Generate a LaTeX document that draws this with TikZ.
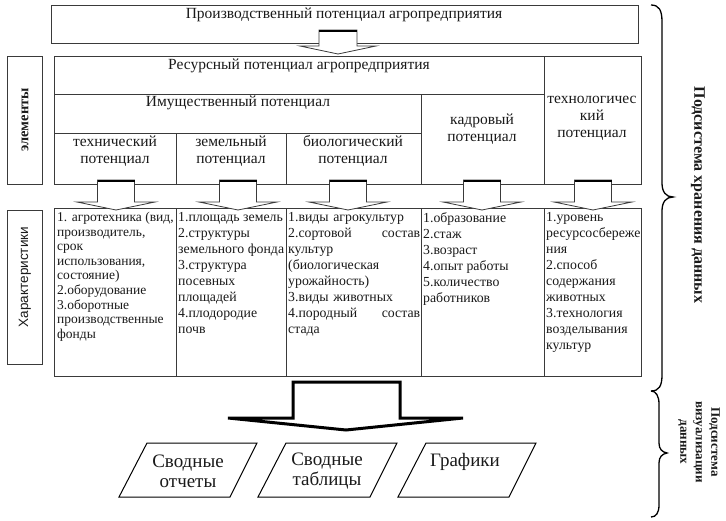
\documentclass[tikz,border=0pt]{standalone}
\usepackage{fontspec}
\setmainfont{Liberation Serif}
\newfontfamily\arialfont{Liberation Sans}
\usetikzlibrary{calc}
\definecolor{ln}{HTML}{3A3A3A}
\definecolor{tx}{HTML}{1A1A1A}
\newcommand\smallblockarrow[6]{% cx, ytop, yneck, ytip, shafthalf, headhalf
  \draw[ln, line width=0.8pt, fill=white, line join=miter]
    ({#1-#5},#2) -- ({#1-#5},#3) -- ({#1-#6},#3) -- (#1,#4) -- ({#1+#6},#3) -- ({#1+#5},#3) -- ({#1+#5},#2) -- cycle;
  \draw[black, line width=2.2pt] ({#1-#5},{#2+1}) -- ({#1+#5},{#2+1});
}
\begin{document}
\begin{tikzpicture}[x=1pt,y=-1pt,
  cellbox/.style={draw=ln, line width=0.9pt, rectangle, inner sep=0pt, anchor=north west},
  hdr/.style={font=\fontsize{15.5}{17}\selectfont, text=tx, align=center, inner sep=0pt},
  itm/.style={font=\fontsize{13.8}{16}\selectfont, text=tx, align=left, anchor=north west, inner sep=0pt},
  itmsmall/.style={font=\fontsize{13.5}{14.6}\selectfont, text=tx, align=left, anchor=north west, inner sep=0pt},
  sidelbl/.style={text=tx, inner sep=0pt, align=center},
  outbox/.style={draw=black, line width=1pt, line join=miter},
  outtext/.style={font=\fontsize{19}{20}\selectfont, text=tx, align=center, inner sep=0pt},
  bracepath/.style={draw=black, line width=1.3pt}
]
\useasboundingbox[fill=white] (0,0) rectangle (726,520);

% top box
\node[cellbox, minimum width=587pt, minimum height=38pt] (ptop) at (51,5) {};
\node[hdr] (ptoptext) at (344,15) {Производственный потенциал агропредприятия};

% resource structure
\node[cellbox, minimum width=490pt, minimum height=38pt] (res) at (54,56) {};
\node[cellbox, minimum width=97pt, minimum height=128pt] (tech) at (544,56) {};
\node[cellbox, minimum width=367pt, minimum height=39pt] (prop) at (54,94) {};
\node[cellbox, minimum width=123pt, minimum height=90pt] (kadr) at (421,94) {};
\node[cellbox, minimum width=122pt, minimum height=51pt] (c1) at (54,133) {};
\node[cellbox, minimum width=110pt, minimum height=51pt] (c2) at (176,133) {};
\node[cellbox, minimum width=135pt, minimum height=51pt] (c3) at (286,133) {};

\node[hdr] (restext) at (299,66) {Ресурсный потенциал агропредприятия};
\node[hdr] (proptext) at (238,103) {Имущественный потенциал};
\node[hdr] (c1text) at (115,151) {технический\\потенциал};
\node[hdr] (c2text) at (231,151) {земельный\\потенциал};
\node[hdr] (c3text) at (353,151) {биологический\\потенциал};
\node[hdr] (kadrtext) at (482,129) {кадровый\\потенциал};
\node[hdr] (techtext) at (592,118) {технологичес\\кий\\потенциал};

% left label boxes
\node[cellbox, minimum width=35pt, minimum height=128pt] (elbox) at (7,56) {};
\node[sidelbl, rotate=90, font=\fontsize{14.5}{16}\selectfont\bfseries] (eltext) at (25,120) {элементы};
\node[cellbox, minimum width=35pt, minimum height=154pt] (chbox) at (7,210) {};
\node[sidelbl, rotate=90, font=\arialfont\fontsize{13.5}{16}\selectfont] (chtext) at (25,277) {Характеристики};

% characteristics table
\node[cellbox, minimum width=122pt, minimum height=168pt] (k1) at (54,208) {};
\node[cellbox, minimum width=110pt, minimum height=168pt] (k2) at (176,208) {};
\node[cellbox, minimum width=135pt, minimum height=168pt] (k3) at (286,208) {};
\node[cellbox, minimum width=123pt, minimum height=168pt] (k4) at (421,208) {};
\node[cellbox, minimum width=97pt, minimum height=168pt] (k5) at (544,208) {};

\node[itmsmall] (k1text) at (57,212) {1. агротехника (вид,\\производитель,\\срок\\использования,\\состояние)\\2.оборудование\\3.оборотные\\производственные\\фонды};
\node[itm] (k2text) at (178,212) {1.площадь земель\\2.структуры\\земельного фонда\\3.структура\\посевных\\площадей\\4.плодородие\\почв};
\node[itm, text width=132pt] (k3text) at (288,212) {1.виды агрокультур\\2.сортовой\hfill состав\\культур\\(биологическая\\урожайность)\\3.виды животных\\4.породный\hfill состав\\стада};
\node[itm] (k4text) at (423,212) {1.образование\\2.стаж\\3.возраст\\4.опыт работы\\5.количество\\работников};
\node[itm] (k5text) at (546,212) {1.уровень\\ресурсосбереже\\ния\\2.способ\\содержания\\животных\\3.технология\\возделывания\\культур};

% small block arrows
\smallblockarrow{338}{30}{46}{54}{19}{38}
\smallblockarrow{116}{180}{202}{210}{18.5}{39}
\smallblockarrow{238}{180}{202}{210}{18.5}{39}
\smallblockarrow{348}{180}{202}{210}{18.5}{39}
\smallblockarrow{482}{180}{202}{210}{18.5}{39}
\smallblockarrow{593}{180}{202}{210}{18.5}{39}

% big block arrow
\draw[black, line width=3pt, fill=white, line join=miter]
  (293,382) -- (293,418) -- (228,418) -- (346,430) -- (463,418) -- (400,418) -- (400,382) -- cycle;

% output parallelograms
\draw[outbox] (119,497) -- (147,443) -- (257,443) -- (230,497) -- cycle;
\node[outtext] (o1) at (188,471) {Сводные\\отчеты};
\draw[outbox] (258,497) -- (286,443) -- (397,443) -- (370,497) -- cycle;
\node[outtext] (o2) at (327,471) {Сводные\\таблицы};
\draw[outbox] (398,497) -- (426,443) -- (536,443) -- (509,497) -- cycle;
\node[outtext] (o3) at (465,462) {Графики};

% braces
\draw[bracepath] (651,5) .. controls (659,5) and (662,10) .. (662,22)
  -- (662,183) .. controls (662,192) and (666,197) .. (673,197)
  .. controls (666,197) and (662,202) .. (662,211)
  -- (662,375) .. controls (662,386) and (659,391) .. (651,391);
\draw[bracepath] (651,391) .. controls (656,391) and (659,396) .. (659,404)
  -- (659,443) .. controls (659,449) and (662,452) .. (667,453)
  .. controls (662,454) and (659,457) .. (659,463)
  -- (659,505) .. controls (659,513) and (656,517) .. (651,517);

% right labels
\node[sidelbl, rotate=-90, font=\fontsize{16}{17}\selectfont\bfseries] (st1) at (698,195) {Подсистема хранения данных};
\node[sidelbl, rotate=-90, font=\fontsize{13}{15.5}\selectfont\bfseries] (st2) at (699,442) {Подсистема\\визуализации\\данных};
\end{tikzpicture}
\end{document}
